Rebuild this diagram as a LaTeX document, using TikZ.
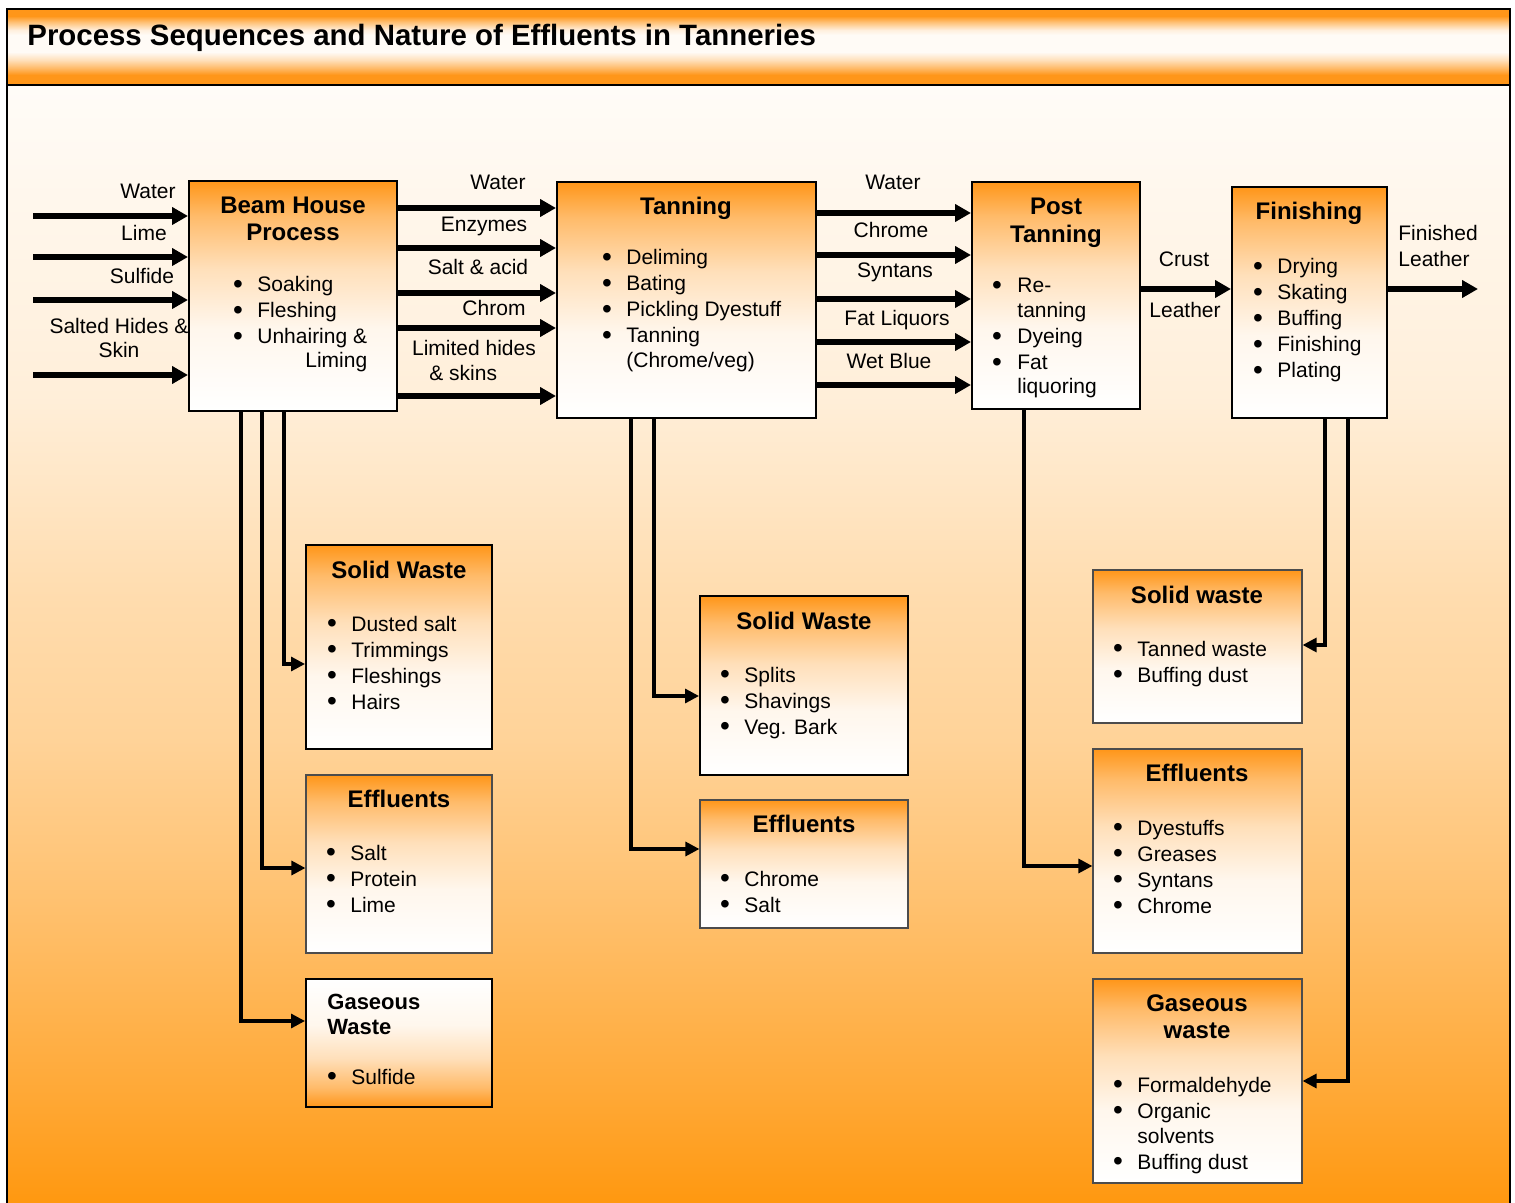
\documentclass[tikz,border=0pt]{standalone}
\usepackage{fontspec}
\setmainfont{Liberation Sans}
\usetikzlibrary{arrows.meta,fit}
\definecolor{orng}{RGB}{255,150,25}
\definecolor{bgO}{RGB}{255,152,16}
\colorlet{bxA}{orng!8!white}
\colorlet{bxB}{orng!30!white}
\colorlet{bxC}{orng!65!white}
\colorlet{hA}{orng!65!white}
\colorlet{hB}{orng!30!white}
\colorlet{hD}{orng!4!white}
\colorlet{hE}{orng!15!white}
\colorlet{hF}{orng!60!white}
\colorlet{gA}{bgO!85!white}
\colorlet{gB}{bgO!60!white}
\colorlet{gC}{bgO!43!white}
\colorlet{gD}{bgO!34!white}
\colorlet{gE}{bgO!16!white}
\colorlet{gF}{bgO!3!white}
\pgfdeclareverticalshading{boxfade}{100bp}{color(0bp)=(white); color(25bp)=(white); color(43bp)=(bxA); color(56bp)=(bxB); color(67.5bp)=(bxC); color(75bp)=(orng); color(100bp)=(orng)}
\pgfdeclareverticalshading{hdrfade}{100bp}{color(0bp)=(orng); color(25bp)=(orng); color(31.6bp)=(orng); color(36.2bp)=(hA); color(41.4bp)=(hB); color(46.7bp)=(hD); color(57.9bp)=(hD); color(61.2bp)=(hE); color(66.4bp)=(hF); color(70.4bp)=(orng); color(75bp)=(orng); color(100bp)=(orng)}
\pgfdeclareverticalshading{bgfade}{100bp}{color(0bp)=(bgO); color(25bp)=(bgO); color(29.6bp)=(gA); color(38.5bp)=(gB); color(45.7bp)=(gC); color(52bp)=(gD); color(61bp)=(gE); color(75bp)=(gF); color(100bp)=(gF)}
\newcommand\bitem[5]{\node[bul] (#1b) at (#2,#4) {\raisebox{-0.9pt}{\textbullet}}; \node[lbl] (#1) at (#3,#4) {#5};}
\begin{document}
\begin{tikzpicture}[x=0.5pt,y=-0.5pt,
  procbox/.style={draw=black, line width=1pt, shade, shading=boxfade, inner sep=0pt},
  lbox/.style={draw=black!70, line width=0.6pt, shade, shading=boxfade, inner sep=0pt},
  lbl/.style={inner sep=0pt, anchor=base west, font=\fontsize{10.5}{13}\selectfont},
  lblc/.style={lbl, anchor=base},
  ttl/.style={inner sep=0pt, anchor=base, font=\fontsize{12}{14}\selectfont\bfseries},
  bul/.style={inner sep=0pt, anchor=base, font=\fontsize{14}{14}\selectfont},
  bigarrow/.style={line width=2.8pt, -{Triangle[length=8pt,width=8.5pt]}},
  thinarrow/.style={line width=1.6pt, -{Triangle[length=7pt,width=7pt]}}]
\useasboundingbox (0,0) rectangle (1515,1203);
% frame
\shade[shading=bgfade] (7,85) rectangle (1510,1203);
\draw[line width=1pt] (7,1210) -- (7,85) -- (1510,85) -- (1510,1210);
\shade[shading=hdrfade] (7,9) rectangle (1510,85);
\draw[line width=1pt] (7,9) rectangle (1510,85);
\node[inner sep=0pt, anchor=base west, font=\fontsize{14.7}{17}\selectfont\bfseries] (title) at (27,46) {Process Sequences and Nature of Effluents in Tanneries};

% boxes
\node[procbox, fit={(189,181) (397,411)}] (bh) {};
\node[procbox, fit={(557,182) (816,418)}] (tan) {};
\node[procbox, fit={(972,182) (1140,409)}] (pt) {};
\node[procbox, fit={(1232,187) (1387,418)}] (fin) {};
\node[procbox, fit={(306,545) (492,749)}] (sw1) {};
\node[lbox, fit={(306,775) (492,953)}] (ef1) {};
\node[procbox, shading angle=180, fit={(306,979) (492,1107)}] (gw1) {};
\node[procbox, fit={(700,596) (908,775)}] (sw2) {};
\node[lbox, fit={(700,800) (908,928)}] (ef2) {};
\node[lbox, fit={(1093,570) (1302,723)}] (sw3) {};
\node[lbox, fit={(1093,749) (1302,953)}] (ef3) {};
\node[lbox, fit={(1093,979) (1302,1183)}] (gw3) {};

% Beam house text
\node[ttl] (bhT1) at (293,214) {Beam House};
\node[ttl] (bhT2) at (293,241) {Process};
\bitem{bhi1}{238}{257}{292}{Soaking}
\bitem{bhi2}{238}{257}{318}{Fleshing}
\bitem{bhi3}{238}{257}{344}{Unhairing \&}
\node[lbl] (bhi4) at (305,368) {Liming};

% Tanning text
\node[ttl] (tanT) at (686,215) {Tanning};
\bitem{ti1}{607}{626}{265}{Deliming}
\bitem{ti2}{607}{626}{291}{Bating}
\bitem{ti3}{607}{626}{317}{Pickling Dyestuff}
\bitem{ti4}{607}{626}{343}{Tanning}
\node[lbl] (ti5) at (626,368) {(Chrome/veg)};

% Post tanning text
\node[ttl] (ptT1) at (1056,215) {Post};
\node[ttl] (ptT2) at (1056,243) {Tanning};
\bitem{pi1}{997}{1017}{293}{Re-}
\node[lbl] (pi2) at (1017,318) {tanning};
\bitem{pi3}{997}{1017}{344}{Dyeing}
\bitem{pi4}{997}{1017}{370}{Fat}
\node[lbl] (pi5) at (1017,394) {liquoring};

% Finishing text
\node[ttl] (finT) at (1309,220) {Finishing};
\bitem{fi1}{1258}{1277}{274}{Drying}
\bitem{fi2}{1258}{1277}{300}{Skating}
\bitem{fi3}{1258}{1277}{326}{Buffing}
\bitem{fi4}{1258}{1277}{352}{Finishing}
\bitem{fi5}{1258}{1277}{378}{Plating}

% Solid waste BH
\node[ttl] (sw1T) at (399,578) {Solid Waste};
\bitem{s1i1}{332}{351}{631}{Dusted salt}
\bitem{s1i2}{332}{351}{657}{Trimmings}
\bitem{s1i3}{332}{351}{683}{Fleshings}
\bitem{s1i4}{332}{351}{709}{Hairs}

% Effluents BH
\node[ttl] (ef1T) at (399,807) {Effluents};
\bitem{e1i1}{331}{350}{860}{Salt}
\bitem{e1i2}{331}{350}{886}{Protein}
\bitem{e1i3}{331}{350}{912}{Lime}

% Gaseous waste BH
\node[ttl, anchor=base west, font=\fontsize{11}{13}\selectfont\bfseries] (gw1T1) at (327,1009) {Gaseous};
\node[ttl, anchor=base west, font=\fontsize{11}{13}\selectfont\bfseries] (gw1T2) at (327,1034) {Waste};
\bitem{g1i1}{332}{351}{1084}{Sulfide}

% Solid waste tanning
\node[ttl] (sw2T) at (804,629) {Solid Waste};
\bitem{s2i1}{725}{744}{682}{Splits}
\bitem{s2i2}{725}{744}{708}{Shavings}
\bitem{s2i3}{725}{744}{734}{Veg. Bark}

% Effluents tanning
\node[ttl] (ef2T) at (804,832) {Effluents};
\bitem{e2i1}{725}{744}{886}{Chrome}
\bitem{e2i2}{725}{744}{912}{Salt}

% Solid waste finishing
\node[ttl] (sw3T) at (1197,603) {Solid waste};
\bitem{s3i1}{1118}{1137}{656}{Tanned waste}
\bitem{s3i2}{1118}{1137}{682}{Buffing dust}

% Effluents post tanning
\node[ttl] (ef3T) at (1197,781) {Effluents};
\bitem{e3i1}{1118}{1137}{835}{Dyestuffs}
\bitem{e3i2}{1118}{1137}{861}{Greases}
\bitem{e3i3}{1118}{1137}{887}{Syntans}
\bitem{e3i4}{1118}{1137}{913}{Chrome}

% Gaseous waste finishing
\node[ttl] (gw3T1) at (1197,1011) {Gaseous};
\node[ttl] (gw3T2) at (1197,1038) {waste};
\bitem{g3i1}{1118}{1137}{1092}{Formaldehyde}
\bitem{g3i2}{1118}{1137}{1118}{Organic}
\node[lbl] (g3i3) at (1137,1143) {solvents};
\bitem{g3i4}{1118}{1137}{1169}{Buffing dust}

% input labels
\node[lblc] (lw) at (148,199) {Water};
\node[lblc] (ll) at (144,241) {Lime};
\node[lblc] (ls) at (142,284) {Sulfide};
\node[lblc] (lh1) at (119,334) {Salted Hides \&};
\node[lblc] (lh2) at (119,358) {Skin};

\node[lblc] (m1) at (498,190) {Water};
\node[lblc] (m2) at (484,232) {Enzymes};
\node[lblc] (m3) at (478,275) {Salt \& acid};
\node[lblc] (m4) at (494,316) {Chrom};
\node[lblc] (m5) at (474,356) {Limited hides};
\node[lbl] (m6) at (429,381) {\& skins};

\node[lblc] (n1) at (893,190) {Water};
\node[lblc] (n2) at (891,238) {Chrome};
\node[lblc] (n3) at (895,278) {Syntans};
\node[lblc] (n4) at (897,326) {Fat Liquors};
\node[lblc] (n5) at (889,369) {Wet Blue};

\node[lblc] (cr1) at (1184,267) {Crust};
\node[lblc] (cr2) at (1185,318) {Leather};
\node[lbl] (fl1) at (1398,241) {Finished};
\node[lbl] (fl2) at (1398,267) {Leather};

% coordinates for connectors
\coordinate (s1) at (33,216);
\coordinate (s2) at (33,257);
\coordinate (s3) at (33,300);
\coordinate (s4) at (33,375);
\coordinate (h1) at (0,208);
\coordinate (h2) at (0,248);
\coordinate (h3) at (0,293);
\coordinate (h4) at (0,328);
\coordinate (h5) at (0,396);
\coordinate (k1) at (0,213);
\coordinate (k2) at (0,255);
\coordinate (k3) at (0,299);
\coordinate (k4) at (0,342);
\coordinate (k5) at (0,385);
\coordinate (q1) at (0,289);
\coordinate (fout) at (1478,289);
\coordinate (d1) at (241,1021);
\coordinate (d2) at (262,868);
\coordinate (d3) at (284,664);
\coordinate (d4) at (631,849);
\coordinate (d5) at (654,696);
\coordinate (d6) at (1024,866);
\coordinate (d7) at (1325,645);
\coordinate (d8) at (1348,1081);

% arrows
\foreach \c in {s1,s2,s3,s4} \draw[bigarrow] (\c) -- (bh.west |- \c);
\foreach \c in {h1,h2,h3,h4,h5} \draw[bigarrow] (bh.east |- \c) -- (tan.west |- \c);
\foreach \c in {k1,k2,k3,k4,k5} \draw[bigarrow] (tan.east |- \c) -- (pt.west |- \c);
\draw[bigarrow] (pt.east |- q1) -- (fin.west |- q1);
\draw[bigarrow] (fin.east |- fout) -- (fout);

\draw[thinarrow] (bh.south -| d1) |- (gw1.west |- d1);
\draw[thinarrow] (bh.south -| d2) |- (ef1.west |- d2);
\draw[thinarrow] (bh.south -| d3) |- (sw1.west |- d3);
\draw[thinarrow] (tan.south -| d4) |- (ef2.west |- d4);
\draw[thinarrow] (tan.south -| d5) |- (sw2.west |- d5);
\draw[thinarrow] (pt.south -| d6) |- (ef3.west |- d6);
\draw[thinarrow] (fin.south -| d7) |- (sw3.east |- d7);
\draw[thinarrow] (fin.south -| d8) |- (gw3.east |- d8);
\end{tikzpicture}
\end{document}
